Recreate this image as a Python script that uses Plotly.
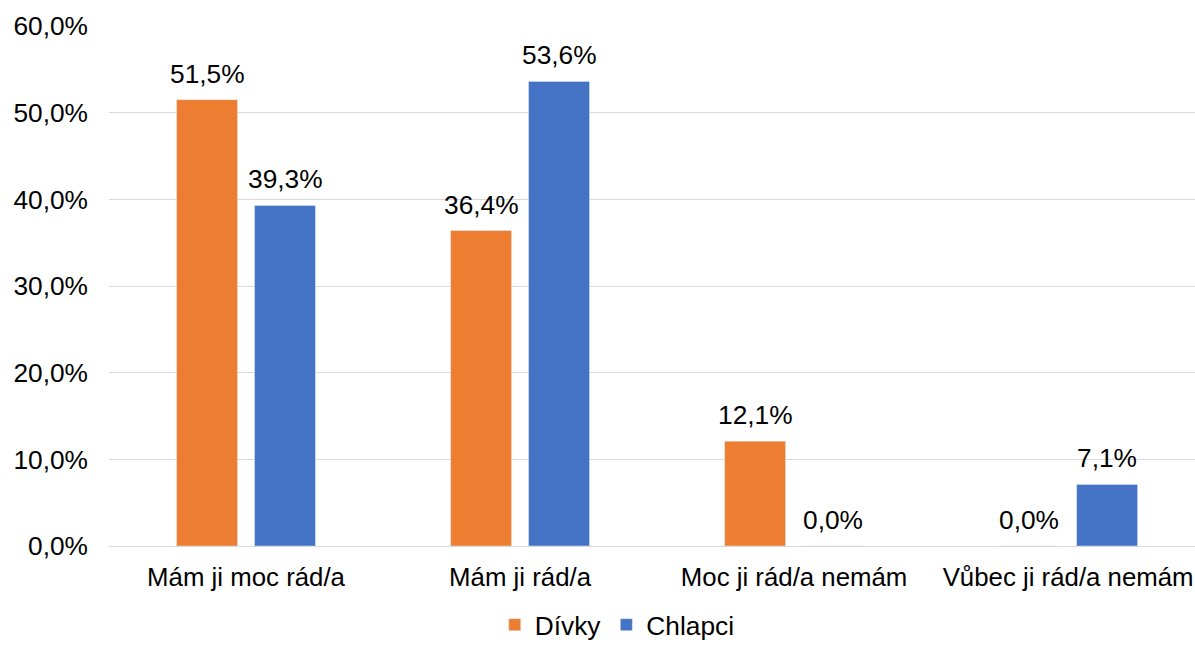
import plotly.graph_objects as go

categories = ["Mám ji moc rád/a", "Mám ji rád/a", "Moc ji rád/a nemám", "Vůbec ji rád/a nemám"]
divky = [51.5, 36.4, 12.1, 0.0]
chlapci = [39.3, 53.6, 0.0, 7.1]
tick_vals = [0, 10, 20, 30, 40, 50, 60]

FONT = "Liberation Sans, Arial, sans-serif"
FS = 26.3

def fmt(v):
    return f"{v:.1f}".replace(".", ",") + "%"

fig = go.Figure()
fig.add_trace(go.Bar(name="Dívky", x=categories, y=divky, marker_color="#ED7D31"))
fig.add_trace(go.Bar(name="Chlapci", x=categories, y=chlapci, marker_color="#4472C4"))

annotations = []
for series, shift in ((divky, -39), (chlapci, 39)):
    for cat, v in zip(categories, series):
        annotations.append(dict(
            x=cat, y=v, xref="x", yref="y", text=fmt(v), showarrow=False,
            xanchor="center", yanchor="bottom", xshift=shift, yshift=9,
            font=dict(size=FS, color="#000000", family=FONT),
        ))

fig.update_layout(
    width=1195, height=645,
    margin=dict(l=109, r=0, t=26, b=99, autoexpand=False),
    plot_bgcolor="white", paper_bgcolor="white",
    barmode="group", bargap=0.431, bargroupgap=0.218,
    font=dict(family=FONT, size=FS, color="#000000"),
    annotations=annotations,
    legend=dict(orientation="h", x=0.468, xanchor="center",
                y=-0.152, yanchor="middle", tracegroupgap=0,
                font=dict(size=FS), traceorder="normal", itemwidth=30),
    xaxis=dict(range=[-0.5, 3.463], showline=True, linecolor="#D9D9D9", linewidth=1,
               ticks="", tickfont=dict(size=25.8), showgrid=False, automargin=False,
               ticklabelstandoff=8),
    yaxis=dict(range=[0, 60], tickvals=tick_vals, ticktext=[fmt(v) for v in tick_vals],
               showgrid=True, gridcolor="#D9D9D9", gridwidth=1, zeroline=False,
               showline=False, ticks="", tickfont=dict(size=FS), ticklabelstandoff=20,
               automargin=False),
)

fig.write_html(
    "out.html",
    config={"displayModeBar": False},
    post_script="document.body.style.margin='0';document.body.style.overflow='hidden';",
)
